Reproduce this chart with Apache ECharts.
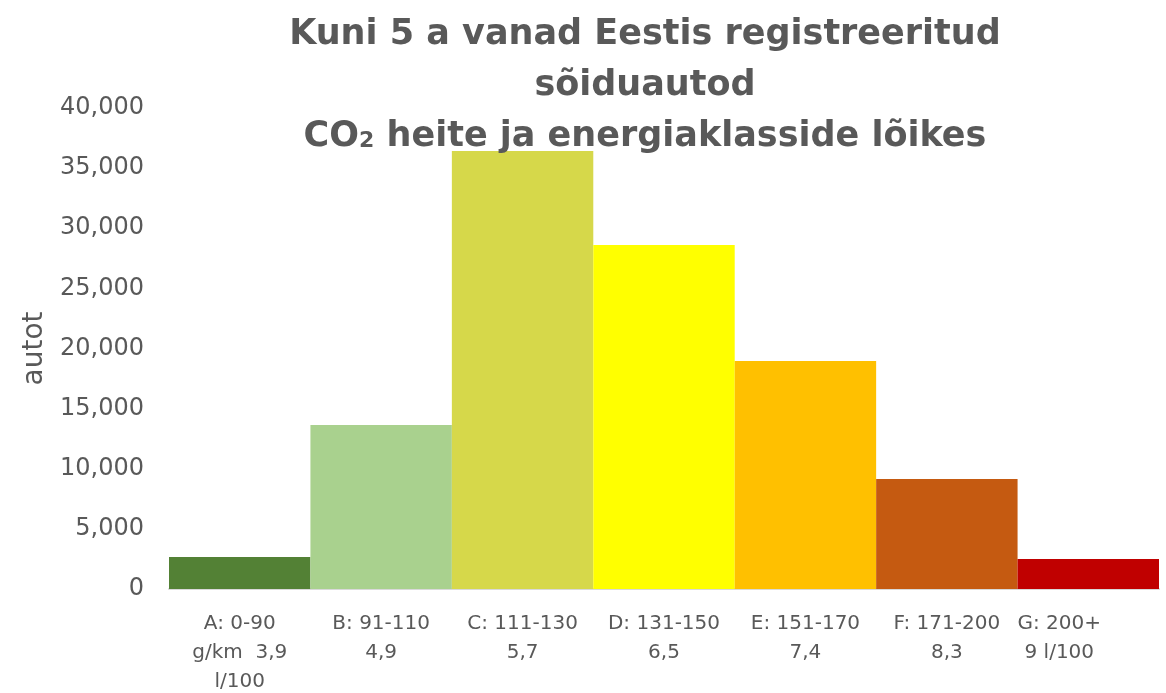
<!DOCTYPE html>
<html>
<head>
<meta charset="utf-8">
<script src="https://cdn.jsdelivr.net/npm/echarts@6/dist/echarts.min.js"></script>
<style>
  html, body { margin: 0; padding: 0; background: #fff; }
  #chart { width: 1166px; height: 693px; }
</style>
</head>
<body>
<div id="chart"></div>
<script>
// energiaklassid
const categories = [
  'A: 0-90\ng/km  3,9\nl/100',
  'B: 91-110\n4,9',
  'C: 111-130\n5,7',
  'D: 131-150\n6,5',
  'E: 151-170\n7,4',
  'F: 171-200\n8,3',
  'G: 200+\n9 l/100'
]
const values = [2660, 13640, 36420, 28600, 18960, 9150, 2490]
const barColors = ['#538135', '#A9D18E', '#D6D84A', '#FFFF00', '#FFC000', '#C55A11', '#C00000']

const textColor = '#595959'
const chart = echarts.init(document.getElementById('chart'))

// viimane silt on Excelis vasakule nihkunud
const axisData = categories.map((c, i) =>
  i === categories.length - 1
    ? { value: c, textStyle: { padding: [0, 58, 0, 0] } }
    : c
)

const option = {
  backgroundColor: '#fff',
  title: {
    text: 'Kuni 5 a vanad Eestis registreeritud\nsõiduautod\n{c|CO}{s|2}{c| heite ja energiaklasside lõikes}',
    left: 640,
    top: 4,
    textAlign: 'center',
    textStyle: {
      fontFamily: 'DejaVu Sans',
      fontWeight: 'bold',
      fontSize: 35,
      lineHeight: 51,
      color: textColor,
      rich: {
        c: { fontFamily: 'DejaVu Sans', fontWeight: 'bold', fontSize: 35, color: textColor, lineHeight: 51 },
        s: { fontFamily: 'DejaVu Sans', fontWeight: 'bold', fontSize: 22, color: textColor, lineHeight: 51, verticalAlign: 'middle', padding: [9, 0, 0, 0] }
      }
    }
  },
  grid: { left: 169, right: 7, top: 108, bottom: 104, outerBoundsMode: 'none' },
  xAxis: {
    type: 'category',
    data: axisData,
    axisLine: { lineStyle: { color: '#D9D9D9', width: 2 } },
    axisTick: { show: false },
    axisLabel: {
      interval: 0,
      margin: 20,
      fontFamily: 'DejaVu Sans',
      fontSize: 20,
      lineHeight: 29,
      color: textColor
    }
  },
  yAxis: {
    type: 'value',
    min: 0,
    max: 40000,
    interval: 5000,
    name: 'autot',
    nameLocation: 'middle',
    nameRotate: 90,
    nameGap: 119,
    nameTextStyle: { fontFamily: 'DejaVu Sans', fontSize: 28, color: textColor },
    axisLine: { show: false },
    axisTick: { show: false },
    splitLine: { show: false },
    axisLabel: {
      margin: 25,
      fontFamily: 'DejaVu Sans',
      fontSize: 24,
      color: textColor,
      formatter: (v) => v.toLocaleString('en-US')
    }
  },
  series: [
    {
      type: 'bar',
      barCategoryGap: 0,
      data: values.map((v, i) => ({ value: v, itemStyle: { color: barColors[i] } }))
    }
  ]
}

chart.setOption(option)
</script>
</body>
</html>
